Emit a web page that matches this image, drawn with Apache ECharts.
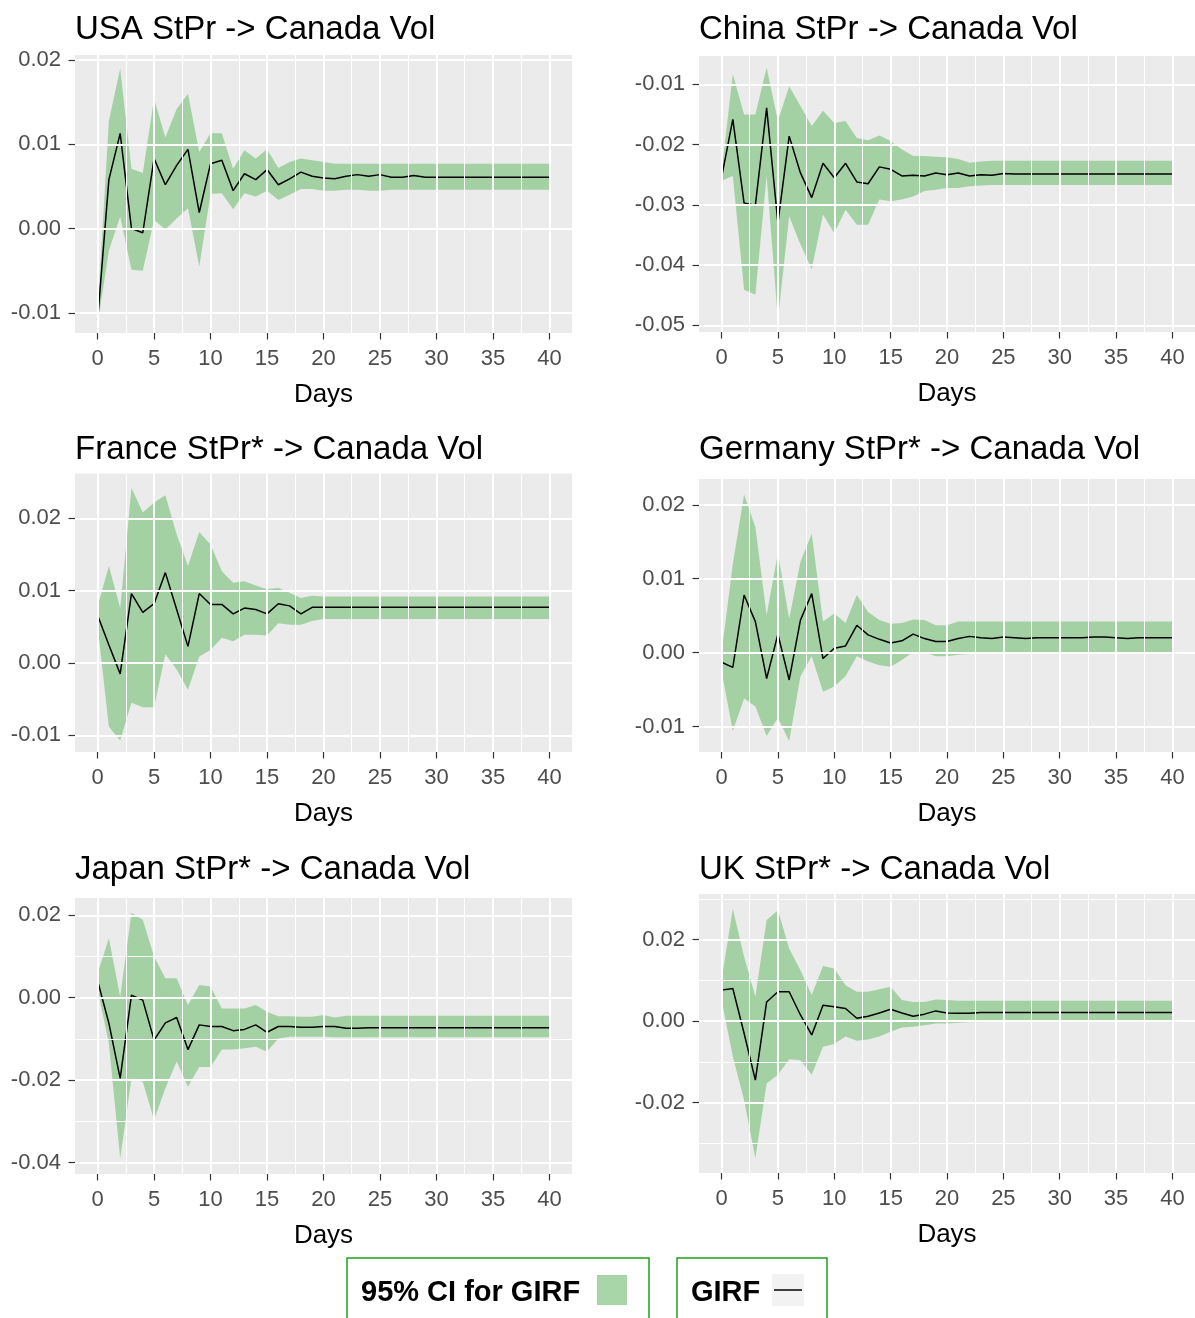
<!DOCTYPE html>
<html>
<head>
<meta charset="utf-8">
<script src="https://cdn.jsdelivr.net/npm/echarts@6/dist/echarts.min.js"></script>
<style>
html,body{margin:0;padding:0;background:#fff;}
#chart{width:1195px;height:1318px;}
</style>
</head>
<body>
<div id="chart"></div>
<script>
// ---------- data ----------
const days = [0,1,2,3,4,5,6,7,8,9,10,11,12,13,14,15,16,17,18,19,20,21,22,23,24,25,26,27,28,29,30,31,32,33,34,35,36,37,38,39,40];
const xTicks = [0,5,10,15,20,25,30,35,40];
const xMinor = [2.5,7.5,12.5,17.5,22.5,27.5,32.5,37.5];

const titles = ['USA StPr -> Canada Vol','China StPr -> Canada Vol','France StPr* -> Canada Vol','Germany StPr* -> Canada Vol','Japan StPr* -> Canada Vol','UK StPr* -> Canada Vol'];

const usaGirf  = [-0.0109,0.0058,0.0113,0.0000,-0.0005,0.0083,0.0052,0.0075,0.0094,0.0019,0.0077,0.0081,0.0045,0.0065,0.0058,0.0070,0.0052,0.0059,0.0067,0.0062,0.0060,0.0059,0.0062,0.0064,0.0062,0.0064,0.0061,0.0061,0.0063,0.0061,0.0061,0.0061,0.0061,0.0061,0.0061,0.0061,0.0061,0.0061,0.0061,0.0061,0.0061];
const usaUpper = [-0.0100,0.0128,0.0190,0.0071,0.0066,0.0154,0.0108,0.0142,0.0160,0.0091,0.0113,0.0113,0.0071,0.0093,0.0083,0.0094,0.0072,0.0079,0.0083,0.0081,0.0079,0.0077,0.0077,0.0077,0.0077,0.0077,0.0077,0.0077,0.0077,0.0077,0.0077,0.0077,0.0077,0.0077,0.0077,0.0077,0.0077,0.0077,0.0077,0.0077,0.0077];
const usaLower = [-0.0114,-0.0026,0.0014,-0.0049,-0.0050,0.0010,-0.0001,0.0012,0.0024,-0.0045,0.0041,0.0042,0.0023,0.0042,0.0038,0.0045,0.0034,0.0040,0.0047,0.0047,0.0045,0.0045,0.0046,0.0046,0.0045,0.0045,0.0046,0.0046,0.0046,0.0046,0.0046,0.0046,0.0046,0.0046,0.0046,0.0046,0.0046,0.0046,0.0046,0.0046,0.0046];
const usaYTicks = [-0.01,0,0.01,0.02];
const usaYMinor = [-0.005,0.005,0.015];

const chinaGirf  = [-0.0255,-0.0158,-0.0297,-0.0301,-0.0139,-0.0330,-0.0186,-0.0247,-0.0288,-0.0231,-0.0255,-0.0231,-0.0262,-0.0265,-0.0237,-0.0241,-0.0252,-0.0251,-0.0252,-0.0247,-0.0250,-0.0247,-0.0252,-0.0250,-0.0251,-0.0248,-0.0249,-0.0249,-0.0249,-0.0249,-0.0249,-0.0249,-0.0249,-0.0249,-0.0249,-0.0249,-0.0249,-0.0249,-0.0249,-0.0249,-0.0249];
const chinaUpper = [-0.0245,-0.0083,-0.0150,-0.0150,-0.0072,-0.0161,-0.0103,-0.0136,-0.0169,-0.0144,-0.0164,-0.0161,-0.0189,-0.0193,-0.0185,-0.0194,-0.0208,-0.0219,-0.0219,-0.0220,-0.0221,-0.0224,-0.0230,-0.0228,-0.0227,-0.0227,-0.0227,-0.0227,-0.0227,-0.0227,-0.0227,-0.0227,-0.0227,-0.0227,-0.0227,-0.0227,-0.0227,-0.0227,-0.0227,-0.0227,-0.0227];
const chinaLower = [-0.0260,-0.0252,-0.0441,-0.0449,-0.0252,-0.0491,-0.0319,-0.0366,-0.0407,-0.0316,-0.0347,-0.0308,-0.0333,-0.0333,-0.0291,-0.0294,-0.0291,-0.0286,-0.0277,-0.0275,-0.0272,-0.0272,-0.0269,-0.0268,-0.0267,-0.0267,-0.0267,-0.0267,-0.0267,-0.0267,-0.0267,-0.0267,-0.0267,-0.0267,-0.0267,-0.0267,-0.0267,-0.0267,-0.0267,-0.0267,-0.0267];
const chinaYTicks = [-0.05,-0.04,-0.03,-0.02,-0.01];
const chinaYMinor = [-0.045,-0.035,-0.025,-0.015];

const franceGirf  = [0.0066,0.0025,-0.0015,0.0096,0.0070,0.0082,0.0125,0.0074,0.0023,0.0096,0.0081,0.0081,0.0068,0.0076,0.0074,0.0068,0.0082,0.0079,0.0068,0.0077,0.0077,0.0077,0.0077,0.0077,0.0077,0.0077,0.0077,0.0077,0.0077,0.0077,0.0077,0.0077,0.0077,0.0077,0.0077,0.0077,0.0077,0.0077,0.0077,0.0077,0.0077];
const franceUpper = [0.0078,0.0134,0.0076,0.0242,0.0208,0.0222,0.0232,0.0178,0.0134,0.0181,0.0164,0.0127,0.0111,0.0113,0.0107,0.0102,0.0104,0.0097,0.0090,0.0093,0.0092,0.0092,0.0092,0.0092,0.0092,0.0092,0.0092,0.0092,0.0092,0.0092,0.0092,0.0092,0.0092,0.0092,0.0092,0.0092,0.0092,0.0092,0.0092,0.0092,0.0092];
const franceLower = [0.0051,-0.0088,-0.0107,-0.0055,-0.0061,-0.0061,0.0012,-0.0009,-0.0037,0.0009,0.0018,0.0035,0.0030,0.0039,0.0039,0.0038,0.0055,0.0053,0.0053,0.0058,0.0061,0.0061,0.0061,0.0061,0.0061,0.0061,0.0061,0.0061,0.0061,0.0061,0.0061,0.0061,0.0061,0.0061,0.0061,0.0061,0.0061,0.0061,0.0061,0.0061,0.0061];
const franceYTicks = [-0.01,0,0.01,0.02];
const franceYMinor = [-0.005,0.005,0.015,0.025];

const germanyGirf  = [-0.0013,-0.0020,0.0078,0.0042,-0.0035,0.0025,-0.0037,0.0044,0.0080,-0.0008,0.0006,0.0009,0.0037,0.0024,0.0018,0.0013,0.0016,0.0025,0.0019,0.0015,0.0015,0.0019,0.0022,0.0020,0.0019,0.0021,0.0020,0.0019,0.0020,0.0020,0.0020,0.0020,0.0020,0.0021,0.0021,0.0020,0.0019,0.0020,0.0020,0.0020,0.0020];
const germanyUpper = [0.0000,0.0120,0.0214,0.0170,0.0051,0.0135,0.0046,0.0123,0.0161,0.0042,0.0053,0.0040,0.0078,0.0055,0.0044,0.0039,0.0040,0.0045,0.0044,0.0037,0.0037,0.0042,0.0042,0.0042,0.0042,0.0042,0.0042,0.0042,0.0042,0.0042,0.0042,0.0042,0.0042,0.0042,0.0042,0.0042,0.0042,0.0042,0.0042,0.0042,0.0042];
const germanyLower = [-0.0025,-0.0106,-0.0062,-0.0073,-0.0113,-0.0088,-0.0120,-0.0032,-0.0005,-0.0053,-0.0046,-0.0032,-0.0005,-0.0012,-0.0017,-0.0019,-0.0010,0.0001,0.0001,-0.0005,-0.0005,-0.0003,-0.0002,0.0000,0.0001,0.0001,0.0001,0.0001,0.0001,0.0001,0.0001,0.0001,0.0001,0.0001,0.0001,0.0001,0.0001,0.0001,0.0001,0.0001,0.0001];
const germanyYTicks = [-0.01,0,0.01,0.02];
const germanyYMinor = [-0.005,0.005,0.015];

const japanGirf  = [0.0041,-0.0062,-0.0196,0.0006,-0.0006,-0.0103,-0.0061,-0.0048,-0.0126,-0.0066,-0.0070,-0.0070,-0.0080,-0.0077,-0.0066,-0.0084,-0.0070,-0.0070,-0.0072,-0.0072,-0.0070,-0.0070,-0.0074,-0.0074,-0.0073,-0.0073,-0.0073,-0.0073,-0.0073,-0.0073,-0.0073,-0.0073,-0.0073,-0.0073,-0.0073,-0.0073,-0.0073,-0.0073,-0.0073,-0.0073,-0.0073];
const japanUpper = [0.0059,0.0144,0.0002,0.0206,0.0189,0.0100,0.0047,0.0047,-0.0018,0.0031,0.0027,-0.0026,-0.0026,-0.0026,-0.0018,-0.0034,-0.0045,-0.0045,-0.0046,-0.0046,-0.0042,-0.0048,-0.0044,-0.0044,-0.0044,-0.0044,-0.0044,-0.0044,-0.0044,-0.0044,-0.0044,-0.0044,-0.0044,-0.0044,-0.0044,-0.0044,-0.0044,-0.0044,-0.0044,-0.0044,-0.0044];
const japanLower = [0.0019,-0.0111,-0.0390,-0.0196,-0.0204,-0.0297,-0.0220,-0.0155,-0.0216,-0.0168,-0.0168,-0.0126,-0.0126,-0.0123,-0.0119,-0.0131,-0.0099,-0.0095,-0.0095,-0.0095,-0.0095,-0.0096,-0.0096,-0.0096,-0.0096,-0.0096,-0.0096,-0.0096,-0.0096,-0.0096,-0.0096,-0.0096,-0.0096,-0.0096,-0.0096,-0.0096,-0.0096,-0.0096,-0.0096,-0.0096,-0.0096];
const japanYTicks = [-0.04,-0.02,0,0.02];
const japanYMinor = [-0.03,-0.01,0.01];

const ukGirf  = [0.0076,0.0080,-0.0030,-0.0145,0.0047,0.0072,0.0072,0.0015,-0.0034,0.0039,0.0035,0.0031,0.0007,0.0012,0.0020,0.0029,0.0020,0.0012,0.0017,0.0025,0.0020,0.0019,0.0019,0.0021,0.0021,0.0021,0.0021,0.0021,0.0021,0.0021,0.0021,0.0021,0.0021,0.0021,0.0021,0.0021,0.0021,0.0021,0.0021,0.0021,0.0021];
const ukUpper = [0.0101,0.0276,0.0158,0.0060,0.0248,0.0272,0.0178,0.0125,0.0064,0.0135,0.0129,0.0088,0.0072,0.0072,0.0078,0.0084,0.0052,0.0047,0.0047,0.0053,0.0052,0.0050,0.0050,0.0050,0.0050,0.0050,0.0050,0.0050,0.0050,0.0050,0.0050,0.0050,0.0050,0.0050,0.0050,0.0050,0.0050,0.0050,0.0050,0.0050,0.0050];
const ukLower = [0.0052,-0.0087,-0.0194,-0.0337,-0.0153,-0.0132,-0.0094,-0.0096,-0.0132,-0.0063,-0.0056,-0.0038,-0.0048,-0.0045,-0.0038,-0.0026,-0.0016,-0.0014,-0.0010,-0.0006,-0.0006,-0.0004,-0.0003,-0.0002,-0.0002,-0.0002,-0.0002,-0.0002,-0.0002,-0.0002,-0.0002,-0.0002,-0.0002,-0.0002,-0.0002,-0.0002,-0.0002,-0.0002,-0.0002,-0.0002,-0.0002];
const ukYTicks = [-0.02,0,0.02];
const ukYMinor = [-0.03,-0.01,0.01,0.03];

const legendLabels = ['95% CI for GIRF','GIRF'];

// ---------- layout & styles ----------
const FONT = '"Liberation Sans", Arial, sans-serif';
const BAND = 'rgba(0,150,0,0.3)';
const panels = [
  {girf:usaGirf, up:usaUpper, lo:usaLower, yt:usaYTicks, ym:usaYMinor, yr:[-0.0124,0.0206], g:{left:75,top:55,width:497,height:278}},
  {girf:chinaGirf, up:chinaUpper, lo:chinaLower, yt:chinaYTicks, ym:chinaYMinor, yr:[-0.0511,-0.0053], g:{left:699,top:56,width:499,height:276}},
  {girf:franceGirf, up:franceUpper, lo:franceLower, yt:franceYTicks, ym:franceYMinor, yr:[-0.0123,0.0262], g:{left:75,top:473.5,width:497,height:278.5}},
  {girf:germanyGirf, up:germanyUpper, lo:germanyLower, yt:germanyYTicks, ym:germanyYMinor, yr:[-0.01345,0.0235], g:{left:699,top:479,width:499,height:273}},
  {girf:japanGirf, up:japanUpper, lo:japanLower, yt:japanYTicks, ym:japanYMinor, yr:[-0.0428,0.0242], g:{left:75,top:898,width:497,height:276}},
  {girf:ukGirf, up:ukUpper, lo:ukLower, yt:ukYTicks, ym:ukYMinor, yr:[-0.0373,0.0312], g:{left:699,top:894,width:499,height:279}}
];
const titleTops = [13, 13, 433, 433, 853, 853];

const grid = [], xAxis = [], yAxis = [], series = [], title = [];
panels.forEach((p, i) => {
  grid.push(Object.assign({show:true, backgroundColor:'#ebebeb', borderWidth:0}, p.g));
  title.push({text: titles[i], left: p.g.left, top: titleTops[i], padding:0,
    textStyle:{fontSize:33, fontWeight:'normal', color:'#000', fontFamily:FONT, lineHeight:33}});
  xAxis.push({gridIndex:i, type:'value', min:-2, max:42,
    axisLine:{show:false, onZero:false},
    axisTick:{show:true, customValues:xTicks, length:6.5, lineStyle:{color:'#333', width:1.2}},
    axisLabel:{customValues:xTicks, color:'#4d4d4d', fontSize:22, margin:15, fontFamily:FONT},
    splitLine:{show:false},
    name:'Days', nameLocation:'middle', nameGap:49,
    nameTextStyle:{fontSize:26, color:'#000', fontFamily:FONT}});
  yAxis.push({gridIndex:i, type:'value', min:p.yr[0], max:p.yr[1],
    axisLine:{show:false, onZero:false},
    axisTick:{show:true, customValues:p.yt, length:6.5, lineStyle:{color:'#333', width:1.2}},
    axisLabel:{customValues:p.yt, color:'#4d4d4d', fontSize:22, margin:14, fontFamily:FONT,
      formatter: v => (Math.abs(v) < 1e-9 ? 0 : v).toFixed(2)},
    splitLine:{show:false}});
  const gl = [];
  xMinor.forEach(v => gl.push({xAxis:v, lineStyle:{color:'#fff', width:1, type:'solid'}}));
  p.ym.forEach(v => gl.push({yAxis:v, lineStyle:{color:'#fff', width:1, type:'solid'}}));
  xTicks.forEach(v => gl.push({xAxis:v, lineStyle:{color:'#fff', width:2, type:'solid'}}));
  p.yt.forEach(v => gl.push({yAxis:v, lineStyle:{color:'#fff', width:2, type:'solid'}}));
  series.push({type:'line', xAxisIndex:i, yAxisIndex:i, z:1, silent:true, symbol:'none',
    data: days.map((d,k)=>[d, p.girf[k]]), lineStyle:{opacity:0},
    markLine:{silent:true, symbol:['none','none'], animation:false, label:{show:false},
      emphasis:{disabled:true}, data: gl}});
  // 95% CI ribbon drawn as one polygon through the axis scales
  series.push({type:'custom', xAxisIndex:i, yAxisIndex:i, z:2, silent:true,
    data: days.map((d,k)=>[d, p.lo[k], p.up[k]]),
    encode:{x:0, y:[1,2]},
    renderItem: (params, api) => {
      if (params.dataIndex !== 0) return null;
      const pts = [];
      for (let k = 0; k < days.length; k++) pts.push(api.coord([days[k], p.up[k]]));
      for (let k = days.length - 1; k >= 0; k--) pts.push(api.coord([days[k], p.lo[k]]));
      return {type:'polygon', shape:{points:pts}, style:{fill:BAND}};
    }});
  series.push({type:'line', xAxisIndex:i, yAxisIndex:i, z:3, silent:true, symbol:'none',
    data: days.map((d,k)=>[d, p.girf[k]]), lineStyle:{color:'#000', width:1.5}});
});

const graphic = [
  {type:'rect', shape:{x:347, y:1258, width:302, height:90}, style:{fill:'#fff', stroke:'#1e9e1e', lineWidth:1.5}},
  {type:'text', x:361, y:1293, style:{text:legendLabels[0], font:'bold 29px '+FONT, fill:'#000', textVerticalAlign:'middle'}},
  {type:'rect', shape:{x:597, y:1275, width:30, height:30}, style:{fill:'#f2f2f2'}},
  {type:'rect', shape:{x:597, y:1275, width:30, height:30}, style:{fill:BAND}},
  {type:'rect', shape:{x:677, y:1258, width:150, height:90}, style:{fill:'#fff', stroke:'#1e9e1e', lineWidth:1.5}},
  {type:'text', x:691, y:1293, style:{text:legendLabels[1], font:'bold 29px '+FONT, fill:'#000', textVerticalAlign:'middle'}},
  {type:'rect', shape:{x:772, y:1274, width:32, height:32}, style:{fill:'#f2f2f2'}},
  {type:'line', shape:{x1:774, y1:1290, x2:802, y2:1290}, style:{stroke:'#000', lineWidth:1.5}}
];

const chart = echarts.init(document.getElementById('chart'), null, {renderer:'canvas'});
chart.setOption({animation:false, backgroundColor:'#fff', title, grid, xAxis, yAxis, series, graphic});
</script>
</body>
</html>
